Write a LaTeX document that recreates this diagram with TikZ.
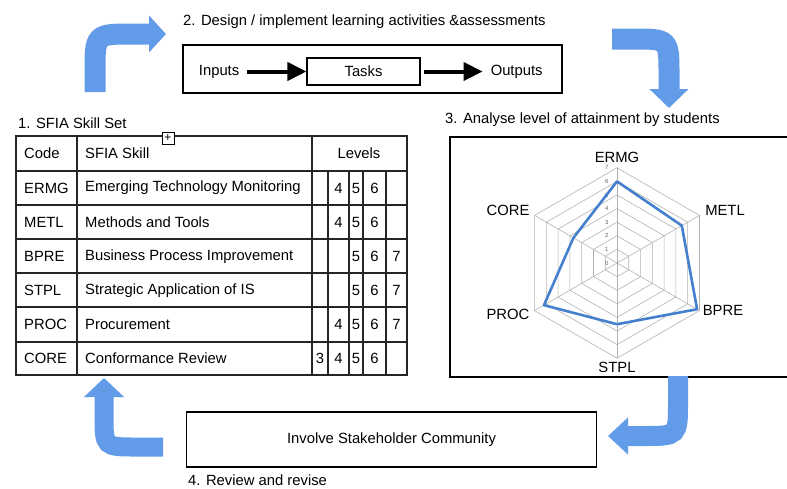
\documentclass[tikz,border=0pt]{standalone}
\usepackage{fontspec}
\setmainfont{Liberation Sans}
\usetikzlibrary{arrows.meta, positioning}
\definecolor{arrowblue}{RGB}{98,155,232}
\definecolor{plotblue}{RGB}{68,128,205}
\definecolor{gridgrey}{RGB}{178,178,178}
\tikzset{
  every node/.style={font=\fontsize{14.8}{17}\selectfont, inner sep=2pt}, % text of the whole figure
  cell/.style={anchor=west}, % left aligned table text
  levelcell/.style={anchor=center}, % one level number
  frame/.style={draw=black, line width=1.1pt}, % boxes round the parts
  tableline/.style={draw=black!85, line width=1.1pt}, % rules of the table
  flowarrow/.style={line width=4pt, -{Triangle[width=18pt,length=19pt]}}, % inputs, tasks, outputs
  cyclearrow/.style={draw=arrowblue, line width=21pt}, % big blue turning arrows
  gridline/.style={draw=gridgrey, line width=0.6pt}, % web of the chart
  dataline/.style={draw=plotblue, line width=2.6pt, line join=round}, % attainment
  ticklabel/.style={font=\fontsize{6}{6}\selectfont, text=black!60, inner sep=0pt},
  axislabel/.style={anchor=center},
}

\begin{document}
\begin{tikzpicture}[x=1pt, y=-1pt]
  \useasboundingbox (0,0) rectangle (787,488);

  % step titles
  \node[anchor=west] (title1) at (16,123) {1. SFIA Skill Set};
  \node[anchor=west] (title2) at (181,22) {2. Design / implement learning activities \&assessments};
  \node[anchor=west] (title3) at (443,120) {3. Analyse level of attainment by students};
  \node[anchor=west] (title4) at (186,480) {4. Review and revise};

  % 2. design box
  \node[frame, minimum width=379pt, minimum height=48pt] (design) at (372.5,69) {};
  \node[frame, minimum width=113pt, minimum height=27pt] (tasks) at (363.5,71.5) {Tasks};
  \node[left=65pt of tasks] (inputs) {Inputs};
  \node[right=68pt of tasks] (outputs) {Outputs};
  \draw[flowarrow, shorten <=6pt] (inputs) -- (tasks);
  \draw[flowarrow, shorten <=3pt, shorten >=6pt] (tasks) -- (outputs);

  % 1. skill table
  \draw[tableline] (16,136) rectangle (407,375);
  \foreach \y in {171,205,239,273,307,342}
    \draw[tableline] (16,\y) -- (407,\y);
  \draw[tableline] (77,136) -- (77,375);
  \draw[tableline] (312,136) -- (312,375);
  \foreach \x in {328,349,363,386}
    \draw[tableline] (\x,171) -- (\x,375);
  \node[cell] (hcode) at (22,153.5) {Code};
  \node[cell] (hskill) at (83,153.5) {SFIA Skill};
  \node (hlevels) at (359,153.5) {Levels};
  \node[draw=black, fill=white, line width=0.7pt, minimum size=12pt, inner sep=0pt,
        font=\fontsize{12}{12}\selectfont] (handle) at (168,138) {+};
  \foreach \code/\skill/\lvls [count=\i] in {
      ERMG/Emerging Technology Monitoring/{4,5,6},
      METL/Methods and Tools/{4,5,6},
      BPRE/Business Process Improvement/{5,6,7},
      STPL/Strategic Application of IS/{5,6,7},
      PROC/Procurement/{4,5,6,7},
      CORE/Conformance Review/{3,4,5,6}} {
    \pgfmathsetmacro\rowy{188+(\i-1)*34.1}
    \node[cell] (code\i) at (22,\rowy) {\code};
    \node[cell] (skill\i) at (83,\rowy) {\skill};
    \foreach \l in \lvls {
      \pgfmathsetmacro\lx{{320,338.5,356,374.5,396.5}[\l-3]}
      \node[levelcell] (lv\i-\l) at (\lx,\rowy) {\l};
    }
  }

  % 3. attainment chart
  \draw[frame] (787,137) -- (450,137) -- (450,377) -- (787,377);
  \begin{scope}[shift={(617,263)}, x=13.6pt, y=13.6pt]
    \foreach \r in {1,...,7}
      \draw[gridline] (90:\r) -- (30:\r) -- (-30:\r) -- (-90:\r) -- (-150:\r) -- (150:\r) -- cycle;
    \foreach \a in {90,30,-30,-90,-150,150}
      \draw[gridline] (0,0) -- (\a:7);
    \foreach \r in {0,...,7}
      \node[ticklabel] (tick\r) at (-0.75,\r) {\r};
    \foreach \a/\v/\n in {90/6/ERMG, 30/5.5/METL, -30/6.8/BPRE, -90/4.5/STPL, -150/6.2/PROC, 150/3.7/CORE}
      \coordinate (v-\n) at (\a:\v);
    \draw[dataline] (v-ERMG) -- (v-METL) -- (v-BPRE) -- (v-STPL) -- (v-PROC) -- (v-CORE) -- cycle;
  \end{scope}
  \node[axislabel] (ERMG) at (617,157) {ERMG};
  \node[axislabel] (METL) at (725,210) {METL};
  \node[axislabel] (BPRE) at (723,310) {BPRE};
  \node[axislabel] (STPL) at (617,367) {STPL};
  \node[axislabel] (PROC) at (508,314) {PROC};
  \node[axislabel] (CORE) at (508,210) {CORE};

  % 4. review box
  \node[frame, minimum width=410pt, minimum height=55pt] (involve) at (391.5,439.5) {Involve Stakeholder Community};

  % the cycle
  \coordinate (c1s) at (95,92);   \coordinate (c1e) at (166,34);
  \coordinate (c2s) at (612,39);  \coordinate (c2e) at (669,108);
  \coordinate (c3s) at (678,376); \coordinate (c3e) at (608,436);
  \coordinate (c4s) at (163,447); \coordinate (c4e) at (104,378);
  \draw[cyclearrow, -{Triangle[width=36pt,length=17pt]}]
    (c1s) -- (95,72) .. controls (95,34) .. (133,34) -- (c1e);
  \draw[cyclearrow, -{Triangle[width=38pt,length=19pt]}]
    (c2s) -- (633,39) .. controls (669,39) .. (669,75) -- (c2e);
  \draw[cyclearrow, line width=20pt, -{Triangle[width=36pt,length=20pt]}]
    (c3s) -- (678,402) .. controls (678,436) .. (644,436) -- (c3e);
  \draw[cyclearrow, line width=19pt, -{Triangle[width=39pt,length=19pt]}]
    (c4s) -- (136,447) .. controls (104,447) .. (104,415) -- (c4e);
\end{tikzpicture}
\end{document}
